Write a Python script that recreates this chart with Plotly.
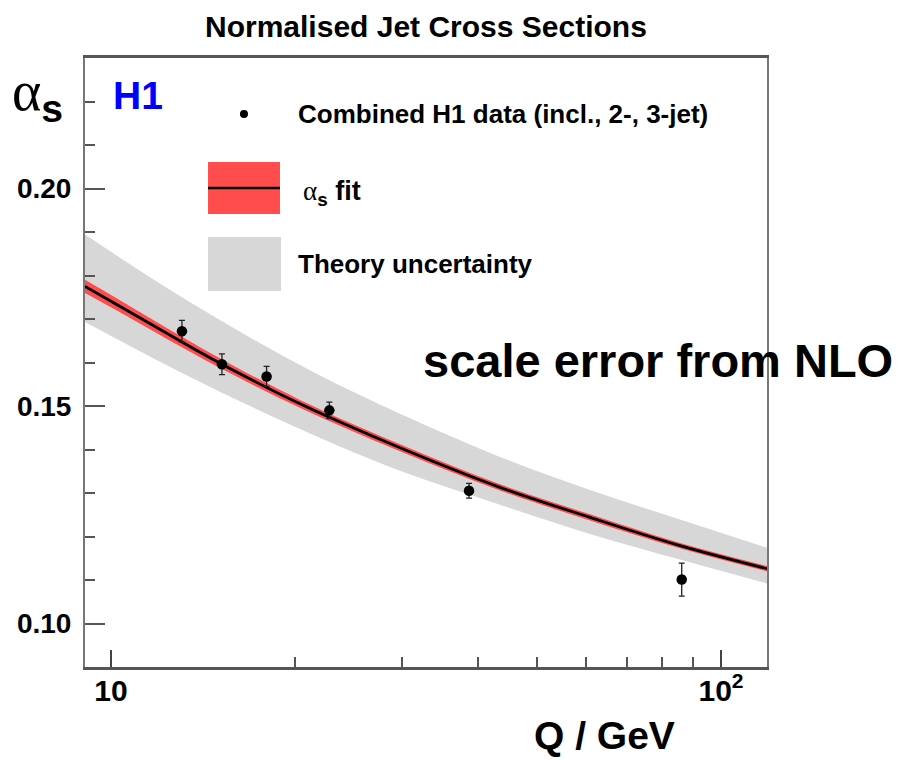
import math
import plotly.graph_objects as go

# ---------------- data ----------------
# H1 combined data points
q_data = [13.07, 15.20, 17.99, 22.80, 38.63, 86.21]
alpha_data = [0.1672, 0.1596, 0.1568, 0.1490, 0.1305, 0.1101]
alpha_err = [0.0025, 0.0024, 0.0023, 0.0019, 0.0017, 0.0038]

# alpha_s fit curve and its (experimental) band half-width
q_fit = [9.065, 10.0, 13.07, 15.20, 20.41, 29.77, 43.42, 61.00, 85.66, 118.95]
alpha_fit = [0.1775, 0.1741, 0.1647, 0.1596, 0.1505, 0.1404, 0.1313, 0.1244, 0.1179, 0.1126]
fit_err = [0.0015, 0.0014, 0.0012, 0.0011, 0.0009, 0.0008, 0.0007, 0.0007, 0.0006, 0.0006]

# theory uncertainty band
q_theory = [9.065, 13.07, 20.41, 29.77, 43.42, 61.00, 85.66, 118.95]
theory_hi = [0.1894, 0.1750, 0.1594, 0.1482, 0.1383, 0.1307, 0.1239, 0.1174]
theory_lo = [0.1693, 0.1576, 0.1447, 0.1351, 0.1273, 0.1206, 0.1147, 0.1092]

# axes
x_range = [9.065, 118.95]
y_range = [0.09, 0.23]
x_major = [10, 100]
x_major_text = ["10", "10<sup>2</sup>"]
x_minor = [20, 30, 40, 50, 60, 70, 80, 90]

FONT = "Liberation Sans, Arial, Helvetica, sans-serif"
GRAY = "#d7d7d7"
RED = "#ff4c4c"

fig = go.Figure()

# theory band
fig.add_trace(go.Scatter(x=q_theory, y=theory_hi, mode="lines", line=dict(width=0, shape="spline"),
                         showlegend=False, hoverinfo="skip"))
fig.add_trace(go.Scatter(x=q_theory, y=theory_lo, mode="lines", line=dict(width=0, shape="spline"),
                         fill="tonexty", fillcolor=GRAY, showlegend=False, hoverinfo="skip"))

# fit band
fit_hi = [a + e for a, e in zip(alpha_fit, fit_err)]
fit_lo = [a - e for a, e in zip(alpha_fit, fit_err)]
fig.add_trace(go.Scatter(x=q_fit, y=fit_hi, mode="lines", line=dict(width=0, shape="spline"),
                         showlegend=False, hoverinfo="skip"))
fig.add_trace(go.Scatter(x=q_fit, y=fit_lo, mode="lines", line=dict(width=0, shape="spline"),
                         fill="tonexty", fillcolor=RED, showlegend=False, hoverinfo="skip"))
# central fit line
fig.add_trace(go.Scatter(x=q_fit, y=alpha_fit, mode="lines", line=dict(color="black", width=2.8, shape="spline"),
                         showlegend=False))

# data points
fig.add_trace(go.Scatter(x=q_data, y=alpha_data, mode="markers",
                         marker=dict(color="black", size=10.5),
                         error_y=dict(type="data", array=alpha_err, color="#222", thickness=1.3, width=3),
                         showlegend=False))

# ---------------- manual legend (paper coords) ----------------
shapes = [
    dict(type="circle", xref="paper", yref="paper", x0=0.2331 - 0.0059, x1=0.2331 + 0.0059,
         y0=0.908 - 0.0066, y1=0.908 + 0.0066, fillcolor="black", line=dict(width=0)),
    dict(type="rect", xref="paper", yref="paper", x0=0.1804, x1=0.2859, y0=0.7438, y1=0.8292,
         fillcolor=RED, line=dict(width=0)),
    dict(type="line", xref="paper", yref="paper", x0=0.1804, x1=0.2859, y0=0.7865, y1=0.7865,
         line=dict(color="black", width=2.5)),
    dict(type="rect", xref="paper", yref="paper", x0=0.1804, x1=0.2874, y0=0.6174, y1=0.7061,
         fillcolor=GRAY, line=dict(width=0)),
]

annotations = [
    dict(text="Normalised Jet Cross Sections", x=0.5, y=1.051, xref="paper", yref="paper",
         showarrow=False, xanchor="center", yanchor="middle",
         font=dict(family=FONT, size=30, color="black", weight="bold")),
    dict(text="<span style='font-family:Liberation Serif'>α</span><sub><b>s</b></sub>",
         x=-0.07, y=0.94, xref="paper", yref="paper", showarrow=False,
         xanchor="center", yanchor="middle", font=dict(family=FONT, size=56, color="black")),
    dict(text="<b>H1</b>", x=0.078, y=0.939, xref="paper", yref="paper", showarrow=False,
         xanchor="center", yanchor="middle", font=dict(family=FONT, size=39, color="#0000ff")),
    dict(text="Combined H1 data (incl., 2-, 3-jet)", x=0.3094, y=0.908, xref="paper", yref="paper",
         showarrow=False, xanchor="left", yanchor="middle",
         font=dict(family=FONT, size=26, color="black", weight="bold")),
    dict(text="<span style='font-family:Liberation Serif;font-weight:normal'>α</span><sub>s</sub> fit",
         x=0.3167, y=0.7783, xref="paper", yref="paper",
         showarrow=False, xanchor="left", yanchor="middle",
         font=dict(family=FONT, size=27, color="black", weight="bold")),
    dict(text="Theory uncertainty", x=0.3094, y=0.6617, xref="paper", yref="paper",
         showarrow=False, xanchor="left", yanchor="middle",
         font=dict(family=FONT, size=26, color="black", weight="bold")),
    dict(text="scale error from NLO", x=0.4927, y=0.504, xref="paper", yref="paper",
         showarrow=False, xanchor="left", yanchor="middle",
         font=dict(family=FONT, size=47, color="black", weight="bold")),
    dict(text="Q / GeV", x=0.761, y=-0.113, xref="paper", yref="paper",
         showarrow=False, xanchor="center", yanchor="middle",
         font=dict(family=FONT, size=39, color="black", weight="bold")),
]

fig.update_layout(
    width=902, height=760,
    margin=dict(l=85, r=135, t=58, b=93),
    plot_bgcolor="white", paper_bgcolor="white",
    showlegend=False,
    shapes=shapes, annotations=annotations,
    xaxis=dict(
        type="log", range=[math.log10(x_range[0]), math.log10(x_range[1])],
        tickmode="array", tickvals=x_major, ticktext=x_major_text,
        ticks="inside", ticklen=17, tickwidth=2, tickcolor="#444",
        minor=dict(tickmode="array", tickvals=x_minor, ticks="inside", ticklen=10,
                   tickwidth=1.5, tickcolor="#555", showgrid=False),
        showline=True, linecolor="#555", linewidth=2.5, mirror=True,
        showgrid=False, zeroline=False, ticklabelstandoff=-5,
        tickfont=dict(family=FONT, size=30, color="black", weight="bold"),
    ),
    yaxis=dict(
        range=y_range, tick0=0, dtick=0.05, tickformat=".2f",
        ticks="inside", ticklen=20, tickwidth=2, tickcolor="#555",
        minor=dict(tick0=0, dtick=0.01, ticks="inside", ticklen=10, tickwidth=2,
                   tickcolor="#555", showgrid=False),
        showline=True, linecolor="#777", linewidth=2, mirror=True,
        showgrid=False, zeroline=False, ticklabelstandoff=6,
        tickfont=dict(family=FONT, size=28, color="black", weight="bold"),
    ),
)

fig.write_html("out.html", config={"displayModeBar": False})
